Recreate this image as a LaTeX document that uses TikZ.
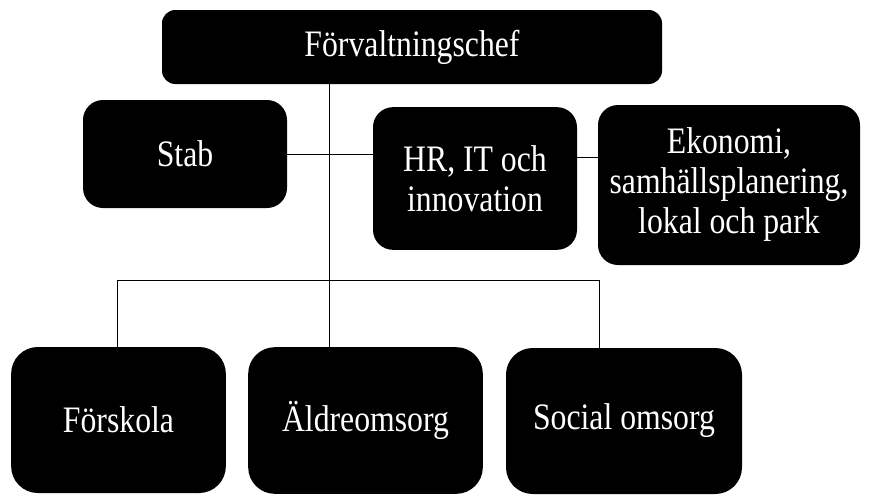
\documentclass[tikz,border=0pt]{standalone}
\usepackage{fontspec}
\setmainfont{Liberation Serif}[FakeStretch=0.85]
\usepackage{tikz}
\usetikzlibrary{positioning,calc}

\begin{document}
\begin{tikzpicture}[x=0.75pt, y=-0.75pt, font=\fontsize{28}{30}\selectfont,
  unit/.style={fill=black, text=white, align=center, inner sep=0pt, rounded corners=15pt},
  link/.style={line width=0.7pt}]
\useasboundingbox (0,0) rectangle (886,497);
% ---------- top level ----------
\node[unit, rounded corners=10pt, minimum width=375pt, minimum height=55.5pt] (chef) at (412,47) {Förvaltningschef};
% ---------- staff row ----------
\node[unit, minimum width=153pt, minimum height=81pt]  (stab) at (185,154)   {Stab};
\node[unit, minimum width=153pt, minimum height=107pt] (hr)   at (475,178.5) {HR, IT och\\innovation};
\node[unit, minimum width=196.5pt, minimum height=120pt] (eko) at (729,185)  {Ekonomi,\\samhällsplanering,\\lokal och park};
% ---------- operations ----------
\node[unit, rounded corners=20pt, minimum width=161pt, minimum height=109.5pt] (forskola) at (118.5,420) {Förskola};
\node[unit, rounded corners=20pt, minimum width=176pt, minimum height=110pt]   (aldre)    at (365.5,420.5) {Äldreomsorg};
\node[unit, rounded corners=20pt, minimum width=177pt, minimum height=109.5pt] (social)   at (624,421) {Social omsorg};
% bus points
\coordinate (trunk) at (329,280);
\coordinate (busL)  at (117,280);
\coordinate (busR)  at (599,280);
\coordinate (hrE)   at ($(hr.east)+(0,-21)$);
% ---------- lines ----------
\draw[link] (chef.south -| trunk) -- (trunk |- aldre.north);
\draw[link] (stab.east) -- (stab.east -| hr.west);
\draw[link] (hrE) -- (hrE -| eko.west);
\draw[link] (busL |- forskola.north) -- (busL) -- (busR) -- (busR |- social.north);
\end{tikzpicture}
\end{document}
